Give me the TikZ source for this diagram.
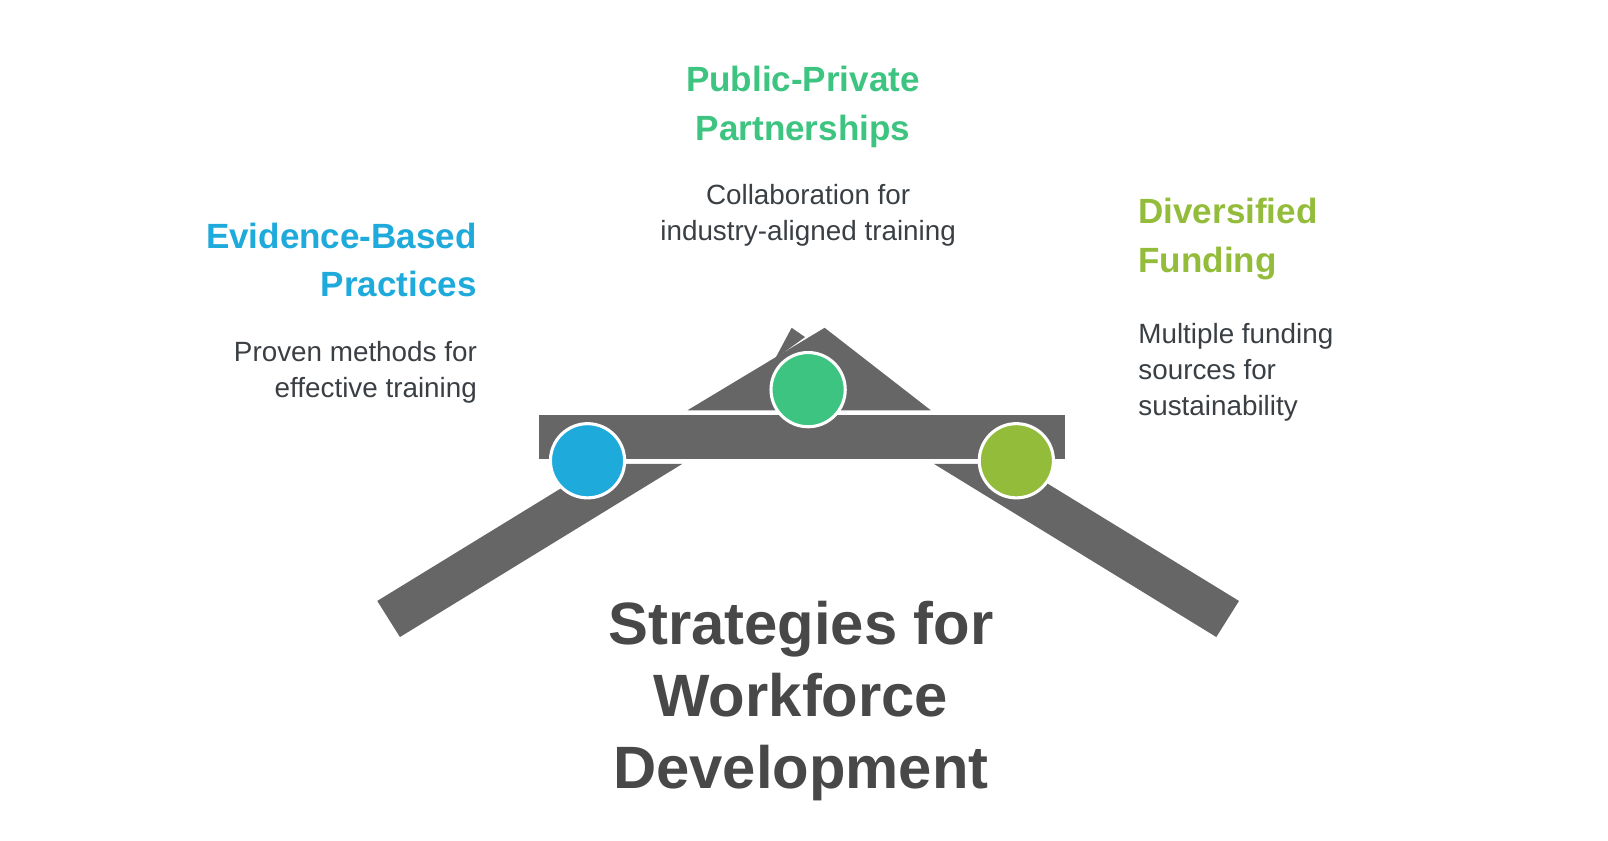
\documentclass[tikz,border=0pt]{standalone}
\usepackage{fontspec}
\setmainfont{Liberation Sans}
\usetikzlibrary{positioning}
\definecolor{barGray}{HTML}{666666}
\definecolor{evBlue}{HTML}{1EAADB}
\definecolor{ppGreen}{HTML}{3CC480}
\definecolor{dfOlive}{HTML}{92BC3A}
\definecolor{bodyText}{HTML}{3A3F44}
\definecolor{titleGray}{HTML}{484848}
\begin{document}
\begin{tikzpicture}[x=0.5pt,y=-0.5pt]
  \tikzset{HeadStyle/.style = {
    font          = {\fontsize{17}{23.5}\selectfont\bfseries},
    inner sep     = 0pt
    }
  }
  \tikzset{BodyStyle/.style = {
    font          = {\fontsize{13.5}{17.5}\selectfont},
    text          = bodyText,
    inner sep     = 0pt
    }
  }
  \tikzset{DotStyle/.style = {
    shape         = circle,
    draw          = white,
    line width    = 1.5pt,
    minimum size  = 36pt,
    inner sep     = 0pt
    }
  }
  \useasboundingbox (0,0) rectangle (1560,815);

  % frame
  \fill[barGray] (523,403) rectangle (1033,445);
  \fill[barGray] (366,583) -- (583,450) -- (662,450) -- (388,618) -- cycle;
  \fill[barGray] (1202,583) -- (985,450) -- (906,450) -- (1180,618) -- cycle;
  \fill[barGray] (667,398) -- (800,318) -- (903,398) -- cycle;
  \fill[barGray] (752,348) -- (768,318) -- (781,327) -- cycle;

  \node[DotStyle, fill=evBlue](EV) at (570,447) {};
  \node[DotStyle, fill=ppGreen](PP) at (784,378) {};
  \node[DotStyle, fill=dfOlive](DF) at (986,447) {};

  \node[HeadStyle, text=evBlue, align=right, anchor=north east](EVhead) at (463,216) {Evidence-Based\\Practices};
  \node[BodyStyle, align=right, anchor=north east](EVtext) at (463,331) {Proven methods for\\effective training};

  \node[HeadStyle, text=ppGreen, align=center, anchor=north](PPhead) at (779,64) {Public-Private\\Partnerships};
  \node[BodyStyle, align=center, anchor=north](PPtext) at (784,178) {Collaboration for\\industry-aligned training};

  \node[HeadStyle, text=dfOlive, align=left, anchor=north west](DFhead) at (1104,192) {Diversified\\Funding};
  \node[BodyStyle, align=left, anchor=north west](DFtext) at (1104,313) {Multiple funding\\sources for\\sustainability};

  \node[font={\fontsize{29}{35}\selectfont\bfseries}, text=titleGray, align=center, anchor=north, inner sep=0pt](Title) at (777,583) {Strategies for\\Workforce\\Development};
\end{tikzpicture}
\end{document}
